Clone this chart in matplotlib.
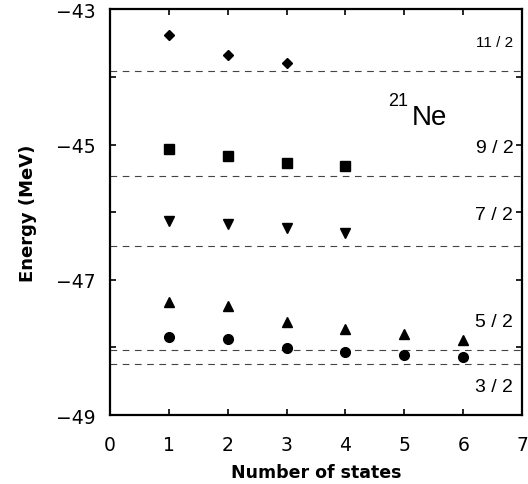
import matplotlib
matplotlib.use("Agg")
import matplotlib.pyplot as plt

plt.rcParams['font.family'] = ['Liberation Sans', 'DejaVu Sans']

# energies (MeV) vs number of states, per spin
n_states = [1, 2, 3, 4, 5, 6]
e_11_2 = [-43.38, -43.68, -43.79]
e_9_2 = [-45.07, -45.17, -45.28, -45.32]
e_7_2 = [-46.13, -46.17, -46.24, -46.31]
e_5_2 = [-47.33, -47.39, -47.63, -47.73, -47.80, -47.89]
e_3_2 = [-47.85, -47.88, -48.01, -48.07, -48.11, -48.14]

# exact (dashed) levels
exact_levels = [-43.92, -45.46, -46.50, -48.03, -48.25]
spin_labels = ['11 / 2', '9 / 2', '7 / 2', '5 / 2', '3 / 2']
label_y = [-43.49, -45.05, -46.03, -47.61, -48.57]

fig = plt.figure(figsize=(5.28, 4.85), dpi=100)
ax = fig.add_axes([0.208, 0.142, 0.781, 0.837])

for lev in exact_levels:
    ax.axhline(lev, color='#444444', lw=0.8, ls=(0, (6, 5)), zorder=1)

ax.plot(n_states[:3], e_11_2, 'D', color='black', ms=5, ls='none')
ax.plot(n_states[:4], e_9_2, 's', color='black', ms=7, ls='none')
ax.plot(n_states[:4], e_7_2, 'v', color='black', ms=7.5, ls='none')
ax.plot(n_states, e_5_2, '^', color='black', ms=7.5, ls='none')
ax.plot(n_states, e_3_2, 'o', color='black', ms=7, ls='none')

for lab, yy in zip(spin_labels, label_y):
    fs = 11 if lab.startswith('11') else 14
    ax.text(6.85, yy, lab, ha='right', va='center', fontsize=fs)

ax.text(4.72, -44.35, '21', fontsize=13, ha='left', va='center')
ax.text(5.12, -44.6, 'Ne', fontsize=20, ha='left', va='center')

ax.set_xlim(0, 7)
ax.set_ylim(-49, -43)
ax.set_xticks(range(0, 8))
ax.set_yticks(range(-49, -42))
ax.set_yticklabels(['\u2212%d' % -v if v % 2 else '' for v in range(-49, -42)])

ax.tick_params(direction='in', length=4, width=1.2, top=True, right=True, labelsize=13.5, pad=10)
ax.tick_params(axis='x', pad=14)
for t in ax.get_xticklabels() + ax.get_yticklabels():
    t.set_family('DejaVu Sans')
for sp in ax.spines.values():
    sp.set_linewidth(1.6)

ax.set_xlabel('Number of states', fontsize=12.5, fontweight='bold', family='DejaVu Sans', labelpad=7)
ax.set_ylabel('Energy (MeV)', fontsize=13, fontweight='bold', family='DejaVu Sans', labelpad=14)

fig.savefig('out.png', dpi=100)
